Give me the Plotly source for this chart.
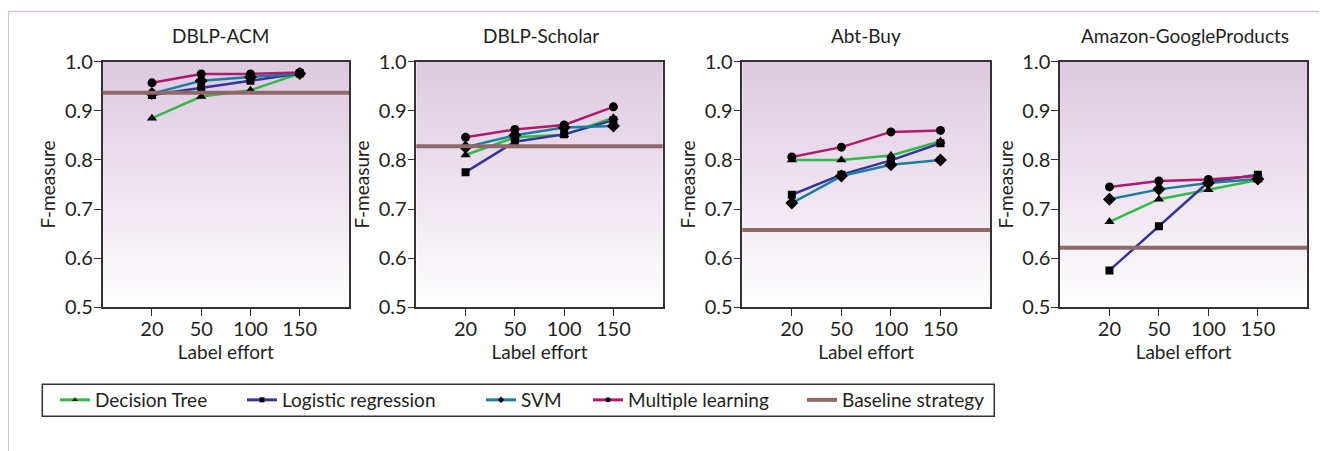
import base64
import plotly.graph_objects as go

# ---------------- data ----------------
label_effort = ["20", "50", "100", "150"]
datasets = ["DBLP-ACM", "DBLP-Scholar", "Abt-Buy", "Amazon-GoogleProducts"]

decision_tree = {
    "DBLP-ACM": [0.885, 0.929, 0.942, 0.976],
    "DBLP-Scholar": [0.810, 0.846, 0.851, 0.886],
    "Abt-Buy": [0.800, 0.800, 0.809, 0.838],
    "Amazon-GoogleProducts": [0.674, 0.720, 0.739, 0.759],
}
logistic_regression = {
    "DBLP-ACM": [0.932, 0.946, 0.961, 0.976],
    "DBLP-Scholar": [0.775, 0.837, 0.852, 0.881],
    "Abt-Buy": [0.729, 0.770, 0.799, 0.834],
    "Amazon-GoogleProducts": [0.575, 0.665, 0.755, 0.770],
}
svm = {
    "DBLP-ACM": [0.935, 0.961, 0.969, 0.976],
    "DBLP-Scholar": [0.826, 0.850, 0.866, 0.869],
    "Abt-Buy": [0.712, 0.767, 0.790, 0.800],
    "Amazon-GoogleProducts": [0.720, 0.740, 0.753, 0.761],
}
multiple_learning = {
    "DBLP-ACM": [0.957, 0.975, 0.975, 0.978],
    "DBLP-Scholar": [0.846, 0.862, 0.871, 0.908],
    "Abt-Buy": [0.806, 0.826, 0.857, 0.860],
    "Amazon-GoogleProducts": [0.745, 0.757, 0.760, 0.767],
}
baseline = {
    "DBLP-ACM": 0.937,
    "DBLP-Scholar": 0.828,
    "Abt-Buy": 0.657,
    "Amazon-GoogleProducts": 0.621,
}
y_ticks = [0.5, 0.6, 0.7, 0.8, 0.9, 1.0]

# ---------------- style ----------------
OFF = 8  # page body margin
W, H = 1327 - OFF, 451 - OFF
FONT = "Lato"
FS = 19
TXT = "#231f20"
AX = "#333333"
series = [
    ("Decision Tree", decision_tree, "#35b84b", "triangle-up", 9),
    ("Logistic regression", logistic_regression, "#36349b", "square", 8),
    ("SVM", svm, "#1b7e9c", "diamond", 10),
    ("Multiple learning", multiple_learning, "#b01a6e", "circle", 9),
]
BASE_COL = "#8f6868"


def px_x(v):
    return (v - OFF) / W


def px_y(v):
    return 1 - (v - OFF) / H


panel_px = [(102.7, 349.0), (416.3, 662.7), (742.3, 990.0), (1060.0, 1307.3)]
title_cx = [220.0, 541.0, 866.0, 1185.0]
ytop, ybot = 61.7, 307.2

svg = ("<svg xmlns='http://www.w3.org/2000/svg' width='100' height='100' preserveAspectRatio='none'>"
       "<defs><linearGradient id='g' x1='0' y1='0' x2='0' y2='1'>"
       "<stop offset='0' stop-color='#dec9e0'/><stop offset='0.55' stop-color='#efe5f0'/>"
       "<stop offset='1' stop-color='#ffffff'/></linearGradient></defs>"
       "<rect width='100' height='100' fill='url(#g)'/></svg>")
grad_uri = "data:image/svg+xml;base64," + base64.b64encode(svg.encode()).decode()

fig = go.Figure()
layout = dict(
    width=W, height=H,
    margin=dict(l=0, r=0, t=0, b=0),
    paper_bgcolor="white", plot_bgcolor="rgba(0,0,0,0)",
    font=dict(family=FONT, size=FS, color=TXT),
    showlegend=True,
)
images, shapes, annotations = [], [], []

for i, ds in enumerate(datasets):
    n = "" if i == 0 else str(i + 1)
    xa, ya = "x" + n, "y" + n
    x0, x1 = panel_px[i]
    layout["xaxis" + n] = dict(
        domain=[px_x(x0), px_x(x1)], anchor=ya, type="category",
        categoryorder="array", categoryarray=label_effort,
        range=[-1, 4], showgrid=False, zeroline=False,
        showline=True, linecolor=AX, linewidth=1.5, mirror=True,
        ticks="outside", ticklen=7, tickwidth=1.2, tickcolor=AX,
        tickfont=dict(size=20, color=TXT), ticklabelstandoff=-4,
        title=dict(text="Label effort", font=dict(size=FS, color=TXT), standoff=6),
        automargin=False, fixedrange=True,
    )
    layout["yaxis" + n] = dict(
        domain=[px_y(ybot), px_y(ytop)], anchor=xa,
        range=[0.5, 1.0], tickvals=y_ticks, ticktext=[f"{v:.1f}" for v in y_ticks],
        showgrid=False, zeroline=False,
        showline=True, linecolor=AX, linewidth=1.5, mirror=True,
        ticks="outside", ticklen=7, tickwidth=1.2, tickcolor=AX,
        tickfont=dict(size=20, color=TXT), ticklabelstandoff=-3,
        title=dict(text="F-measure", font=dict(size=FS, color=TXT), standoff=4),
        automargin=False, fixedrange=True,
    )
    images.append(dict(source=grad_uri, xref=xa + " domain", yref=ya + " domain",
                       x=0, y=1, sizex=1, sizey=1, sizing="stretch",
                       xanchor="left", yanchor="top", layer="below"))
    annotations.append(dict(text=ds, xref="paper", yref="paper",
                            x=px_x(title_cx[i]), y=px_y(36),
                            xanchor="center", yanchor="middle", showarrow=False,
                            font=dict(size=FS, color=TXT)))
    shapes.append(dict(type="line", xref=xa + " domain", yref=ya,
                       x0=0, x1=1, y0=baseline[ds], y1=baseline[ds],
                       line=dict(color=BASE_COL, width=4), layer="above"))
    for name, data, col, sym, ms in series:
        fig.add_trace(go.Scatter(
            x=label_effort, y=data[ds], xaxis=xa, yaxis=ya, mode="lines+markers",
            line=dict(color=col, width=2.5),
            marker=dict(symbol=sym, size=ms, color="black"),
            showlegend=False, name=name, hoverinfo="skip",
        ))

# legend entries (separate legends for exact placement)
leg_text_starts = [95, 282, 521, 628, 842]
leg_entries = [(s[0], s[2], s[3]) for s in series] + [("Baseline strategy", BASE_COL, None)]
for k, (name, col, sym) in enumerate(leg_entries):
    lid = "legend" if k == 0 else f"legend{k + 1}"
    if sym is None:
        tr = go.Scatter(x=[None], y=[None], mode="lines", line=dict(color=col, width=4),
                        name=name, legend=lid, showlegend=True)
    else:
        tr = go.Scatter(x=[None], y=[None], mode="lines+markers",
                        line=dict(color=col, width=3),
                        marker=dict(symbol=sym, size=5, color="black"),
                        name=name, legend=lid, showlegend=True)
    fig.add_trace(tr)
    layout[lid] = dict(x=px_x(leg_text_starts[k] - 40), y=px_y(400), xanchor="left",
                       yanchor="middle", bgcolor="rgba(0,0,0,0)", borderwidth=0,
                       font=dict(size=FS, color=TXT), orientation="h")

# legend frame and outer frame
shapes.append(dict(type="rect", xref="paper", yref="paper",
                   x0=px_x(42.3), x1=px_x(994.3), y0=px_y(416.3), y1=px_y(384.3),
                   line=dict(color="#333333", width=1.5), fillcolor="rgba(0,0,0,0)"))
shapes.append(dict(type="rect", xref="paper", yref="paper",
                   x0=px_x(8.3), x1=1.05, y0=-0.05, y1=px_y(11.5),
                   line=dict(color="#d9c0db", width=1.5), fillcolor="rgba(0,0,0,0)"))

layout["images"] = images
layout["shapes"] = shapes
layout["annotations"] = annotations
fig.update_layout(**layout)
fig.write_html("out.html")
